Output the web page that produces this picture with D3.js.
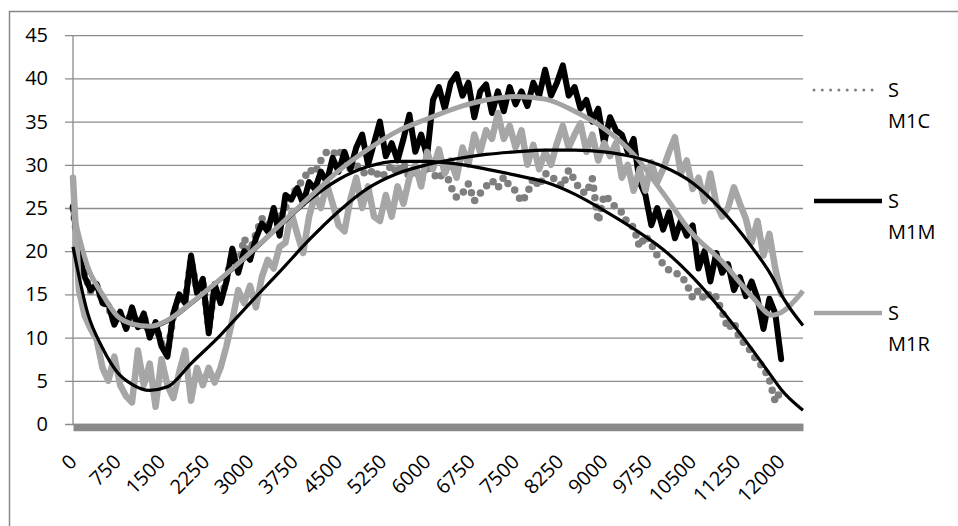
<!DOCTYPE html>
<html>
<head>
<meta charset="utf-8">
<script src="https://cdn.jsdelivr.net/npm/d3@7"></script>
<style>
  html, body { margin: 0; padding: 0; background: #ffffff; }
  svg { display: block; }
</style>
</head>
<body>
<svg id="chart" width="958" height="526"></svg>
<script>
// Sample positions along the category axis
const categories = [
  0,100,200,300,400,500,600,700,800,900,
  1000,1100,1200,1300,1400,1500,1600,1700,1800,1900,
  2000,2100,2200,2300,2400,2500,2600,2700,2800,2900,
  3000,3100,3200,3300,3400,3500,3600,3700,3800,3900,
  4000,4100,4200,4300,4400,4500,4600,4700,4800,4900,
  5000,5100,5200,5300,5400,5500,5600,5700,5800,5900,
  6000,6100,6200,6300,6400,6500,6600,6700,6800,6900,
  7000,7100,7200,7300,7400,7500,7600,7700,7800,7900,
  8000,8100,8200,8300,8400,8500,8600,8700,8800,8900,
  9000,9100,9200,9300,9400,9500,9600,9700,9800,9900,
  10000,10100,10200,10300,10400,10500,10600,10700,10800,10900,
  11000,11100,11200,11300,11400,11500,11600,11700,11800,11900,
  12000
];

const seriesM1C = [
  25,19.8,17.3,15.3,16,14.2,13.5,11.8,12.8,11.2,
  13.2,11.5,12.5,10.3,11.5,9.3,8.2,12.5,14.7,14.3,
  19,15.5,16.5,11,15.8,14.3,16.8,19.8,18,21.5,
  20,22,23.8,23,24,23.8,25,26.2,27.5,28.2,
  29.5,29,30.5,31.5,31.2,31.8,30.5,29.5,30,29.2,
  28.8,29.5,28.5,29,30,29,30.2,28.5,29.5,28.2,
  30,29,28.3,29.5,27.5,26.2,26.7,27.8,25.8,26.7,
  27.5,28.2,27.3,28.6,27.5,27,25.7,26.7,28.5,27.5,
  29,28.8,28,27.5,29.4,28.2,27,26.7,28.4,23.4,
  26.5,25.9,25,24.5,23.2,22.8,20.5,21.8,20.8,19.5,
  18.5,17.8,17.5,17.2,16.2,14.6,15.5,14.4,15.2,14.7,
  13,11,11.8,9.8,9.2,8.3,7.2,6.6,5.1,2.6,
  4
];

const seriesM1M = [
  25.2,19.5,17,15.5,16.2,14,13.8,11.5,13,11,
  13.5,11.2,12.8,10,11.8,9,7.8,12.8,15,14,
  19.5,15.2,16.8,10.5,16.2,14,16.5,20.3,17.5,20,
  19,21.5,23.2,22.3,25,21.8,26.5,26,27.3,25.5,
  28,27.2,29.2,28,30.8,29.2,31.5,29.5,32,33.5,
  30,32.5,35,31,32.5,30.5,33,35.8,31.5,33.5,
  31,37.5,39,36.5,39.5,40.5,38,39.5,35.5,38.5,
  39.3,36,38.5,36.2,39,37,38.5,36.8,39.5,38,
  41,38,39.5,41.5,38,39,36.5,37.5,35,36.5,
  32.5,35.5,34,33.5,31.5,33,28,26.5,23,25,
  22.5,24.5,21.5,23.5,21.8,23,18,20,16.5,19.8,
  17.5,18.5,15.5,17,14.8,16.5,14.5,11,14.5,12.8,
  7.5
];

const seriesM1R = [
  28.5,15.5,12.5,11,9.8,6.5,5,7.8,4.5,3.2,
  2.5,8.5,4.5,7,2,7.5,4.5,3,6,8.5,
  2.7,6.5,4.5,6.5,4.8,6.5,9,12,15.5,14,
  16,13.5,17,19,18,20.5,21,24.5,22,19.8,
  24,26.5,25,27.8,25.5,23,22.3,26,28.5,25,
  27.5,24,23.5,26.5,24,27.5,25.5,28.5,30,27.5,
  31.5,29.5,31.8,29,30.5,28.5,32,30,33.5,31.5,
  34,33,36,33,34.5,32,34,30,32.3,29.5,
  31.5,30,32.5,34.5,32,33.5,34.8,31.5,33.5,30.5,
  32.5,31,32.5,28.5,30,27,29.5,27,30.3,28,
  29.5,31.5,33.2,29,30.5,27.2,28.5,25.8,29,25.5,
  24,25,27.4,25.5,23.8,21,23.5,19.5,22,18,
  15
];

// Polynomial trend curves, sampled along the axis
const trendCategories = [
  0,250,500,750,1000,1300,1600,2000,2500,3000,3500,4000,4500,5000,5500,
  6000,6500,7000,7500,8000,8500,9000,9500,10000,10500,11000,11500,11850,12000,12370
];
const trendM1C = [
  24.45,18.05,14.85,12.35,11.45,11.15,11.85,13.85,16.65,19.65,22.85,25.9,28.3,29.8,30.4,
  30.4,30.1,29.5,28.8,28,26.6,24.7,22.6,20.2,17,13.1,8.7,5.4,4,1.6
];
const trendM1M = [
  24.6,18.2,15,12.5,11.6,11.3,12,14,16.8,19.8,23,26.2,29.3,31.8,33.9,
  35.3,36.6,37.5,37.9,37.6,36.2,34.2,31.2,26.7,22,18.8,14.8,12.6,12.9,15.4
];
const trendM1R = [
  20.5,12.8,8.8,6,4.6,3.9,4.3,7,10.3,14,17.6,21.3,24.6,27.3,29,
  30,30.7,31.2,31.5,31.7,31.7,31.5,30.9,29.8,27.9,24.7,20.5,17,15,11.4
];

const yTickLabels = [0,5,10,15,20,25,30,35,40,45];
const xTickLabels = [0,750,1500,2250,3000,3750,4500,5250,6000,6750,7500,8250,9000,9750,10500,11250,12000];
const legendNames = ["S M1C", "S M1M", "S M1R"];
const axisEnd = 12370;

const FONT = "'Open Sans', 'Noto Sans', sans-serif";
const svg = d3.select("#chart");

const plot = { left: 73, right: 803, top: 35.2, bottom: 424 };
const x = d3.scaleLinear().domain([0, axisEnd]).range([plot.left, plot.right]);
const y = d3.scaleLinear().domain([0, 45]).range([plot.bottom, plot.top]);

// Chart area border
svg.append("rect")
  .attr("x", 9.5).attr("y", 11.5)
  .attr("width", 960).attr("height", 530)
  .attr("fill", "none").attr("stroke", "#878787").attr("stroke-width", 1.5);

// Value axis with horizontal gridlines
const yAxis = svg.append("g")
  .attr("transform", `translate(${plot.right},0)`)
  .call(d3.axisLeft(y).tickValues(yTickLabels).tickFormat(d3.format("d"))
    .tickSize(plot.right - 65).tickPadding(17));
yAxis.select(".domain").remove();
yAxis.selectAll(".tick line").attr("stroke", "#8b8b8b").attr("stroke-width", 1.3);
yAxis.selectAll(".tick text")
  .attr("font-family", FONT).attr("font-size", 20).attr("fill", "#000");

svg.append("line")
  .attr("x1", plot.left).attr("x2", plot.left)
  .attr("y1", y(45)).attr("y2", y(0))
  .attr("stroke", "#8b8b8b").attr("stroke-width", 1.3);

// Category axis: heavy baseline with slanted labels
const xAxis = svg.append("g")
  .attr("transform", `translate(0,${y(0) + 3})`)
  .call(d3.axisBottom(x).tickValues(xTickLabels).tickFormat(d3.format("d"))
    .tickSize(0).tickSizeOuter(0));
xAxis.select(".domain").attr("stroke", "#8a8a8a").attr("stroke-width", 7.5);
xAxis.selectAll(".tick text")
  .attr("font-family", FONT).attr("font-size", 20).attr("fill", "#000")
  .attr("y", 0).attr("dy", 0)
  .attr("text-anchor", "end")
  .attr("transform", "translate(4.5,36) rotate(-45)");

// Series
const line = d3.line().x(d => x(d[0])).y(d => y(d[1]));
const pairs = vals => categories.map((c, i) => [c, vals[i]]);
const trendPairs = vals => trendCategories.map((c, i) => [c, vals[i]]);
const trendLine = d3.line().x(d => x(d[0])).y(d => y(d[1])).curve(d3.curveMonotoneX);

const dataLayer = svg.append("g");

// S M1C: round-dot line
dataLayer.append("path")
  .attr("d", line(pairs(seriesM1C)))
  .attr("fill", "none").attr("stroke", "#7f7f7f")
  .attr("stroke-width", 7.5).attr("stroke-linecap", "round")
  .attr("stroke-dasharray", "0 9.5");

// S M1M
dataLayer.append("path")
  .attr("d", line(pairs(seriesM1M)))
  .attr("fill", "none").attr("stroke", "#000000")
  .attr("stroke-width", 6).attr("stroke-linejoin", "round").attr("stroke-linecap", "round");

// S M1R
dataLayer.append("path")
  .attr("d", line(pairs(seriesM1R)))
  .attr("fill", "none").attr("stroke", "#a6a6a6")
  .attr("stroke-width", 6.5).attr("stroke-linejoin", "round").attr("stroke-linecap", "round");

// Trend lines
const trends = [
  { vals: trendM1C, color: "#000000", width: 3.2 },
  { vals: trendM1M, color: "#a3a3a3", width: 5 },
  { vals: trendM1R, color: "#000000", width: 3.2 }
];
trends.forEach(t => {
  dataLayer.append("path")
    .attr("d", trendLine(trendPairs(t.vals)))
    .attr("fill", "none").attr("stroke", t.color)
    .attr("stroke-width", t.width).attr("stroke-linecap", "butt");
});

// Legend
const legendStyles = [
  { color: "#808080", width: 3, dash: "0 8.3", cap: "round", x2: 878 },
  { color: "#000000", width: 4.5, dash: null, cap: "butt", x2: 882 },
  { color: "#a6a6a6", width: 4.5, dash: null, cap: "butt", x2: 882 }
];
const legendY = [90, 201, 313];
const legend = svg.append("g");
legendNames.forEach((name, i) => {
  const s = legendStyles[i];
  const ly = legendY[i];
  const ln = legend.append("line")
    .attr("x1", 814).attr("x2", s.x2).attr("y1", ly).attr("y2", ly)
    .attr("stroke", s.color).attr("stroke-width", s.width)
    .attr("stroke-linecap", s.cap);
  if (s.dash) ln.attr("stroke-dasharray", s.dash);
  const parts = name.split(" ");
  const t = legend.append("text")
    .attr("font-family", FONT).attr("font-size", 20).attr("fill", "#000");
  parts.forEach((p, j) => {
    t.append("tspan").attr("x", 888).attr("y", ly + j * 31).attr("dy", "0.35em").text(p);
  });
});
</script>
</body>
</html>
